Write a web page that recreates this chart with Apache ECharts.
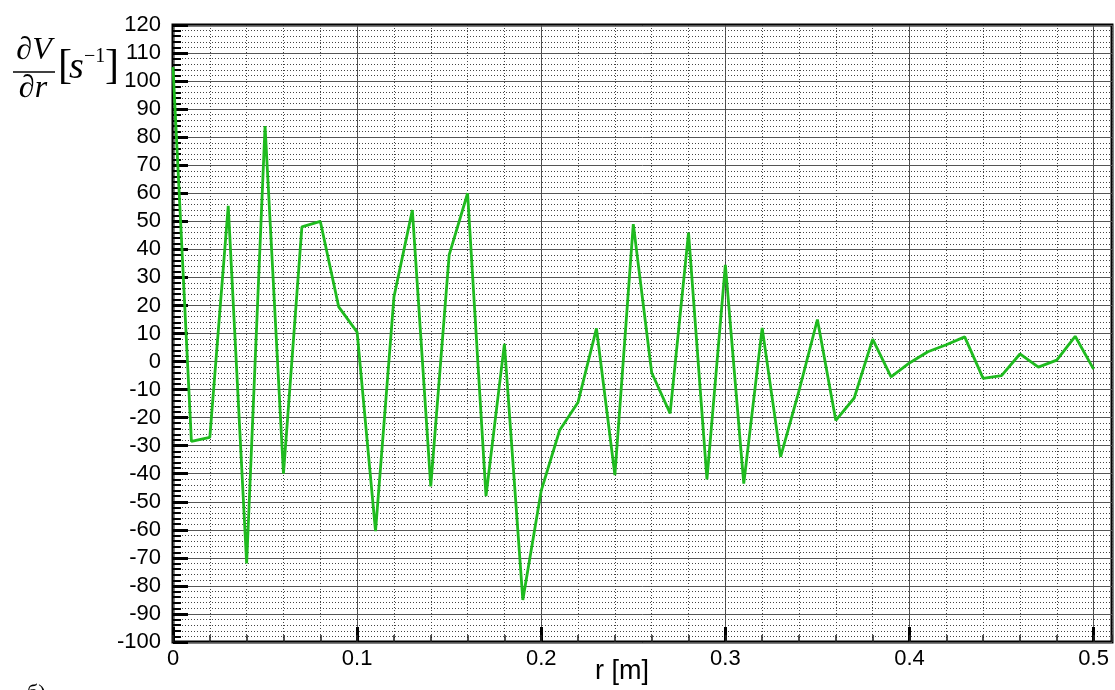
<!DOCTYPE html>
<html>
<head>
<meta charset="utf-8">
<script src="https://cdn.jsdelivr.net/npm/echarts@6/dist/echarts.min.js"></script>
<style>html,body{margin:0;padding:0;background:#fff;}#c{width:1115px;height:690px;}</style>
</head>
<body>
<div id="c"></div>
<script>
var rValues = [0,0.01,0.02,0.03,0.04,0.05,0.06,0.07,0.08,0.09,
  0.10,0.11,0.12,0.13,0.14,0.15,0.16,0.17,0.18,0.19,
  0.20,0.21,0.22,0.23,0.24,0.25,0.26,0.27,0.28,0.29,
  0.30,0.31,0.32,0.33,0.34,0.35,0.36,0.37,0.38,0.39,
  0.40,0.41,0.42,0.43,0.44,0.45,0.46,0.47,0.48,0.49,0.50];
var dVdr = [105,-28.5,-27,55.5,-72,84,-40,48,50,19.5,
  10.5,-60.5,23,54,-44.5,38,60,-48,6.3,-85,
  -46,-24.5,-14.5,11.8,-40.5,49,-4,-18.5,46,-42,
  34.5,-43.5,12,-34,-10.5,15,-21,-13,8,-5.5,
  -0.5,3.5,6,8.8,-6,-5,2.7,-2,0.5,9,-2.7];
var xTicks = [0,0.1,0.2,0.3,0.4,0.5];
var yTicks = [-100,-90,-80,-70,-60,-50,-40,-30,-20,-10,0,10,20,30,40,50,60,70,80,90,100,110,120];

var pts = rValues.map(function(r,i){return [r,dVdr[i]];});
var chart = echarts.init(document.getElementById('c'), null, {renderer:'canvas'});
var labelFont = {fontFamily:'Liberation Sans, Arial, sans-serif', fontSize:22, color:'#000'};
chart.setOption({
  animation:false,
  grid:{left:173,top:25,right:3,bottom:48,show:true,borderColor:'#000',borderWidth:3,backgroundColor:'transparent'},
  xAxis:[{
    type:'value', min:0, max:0.51, interval:0.1,
    axisLine:{show:false, onZero:false},
    axisTick:{show:true, inside:true, length:15, lineStyle:{color:'#000',width:3}},
    axisLabel:Object.assign({margin:6, showMaxLabel:false, formatter:function(v){return xTicks.indexOf(Math.round(v*100)/100)>=0 ? String(Math.round(v*10)/10) : '';}}, labelFont),
    splitLine:{show:true, lineStyle:{color:'#555',width:1}}
  },{
    type:'value', min:0, max:0.51, interval:0.02, position:'bottom',
    axisLine:{show:false, onZero:false},
    axisLabel:{show:false},
    axisTick:{show:true, inside:true, length:7, lineStyle:{color:'#222',width:1.5}},
    splitLine:{show:true, lineStyle:{color:'#444',width:1,type:[1,2]}}
  }],
  yAxis:{
    type:'value', min:-100, max:120, interval:10,
    axisLine:{show:false, onZero:false},
    axisTick:{show:true, inside:true, length:15, lineStyle:{color:'#000',width:3}},
    minorTick:{show:true, splitNumber:5, length:8, lineStyle:{color:'#000',width:2}},
    axisLabel:Object.assign({margin:12, formatter:function(v){return yTicks.indexOf(v)>=0?String(v):'';}}, labelFont),
    splitLine:{show:true, lineStyle:{color:'#555',width:1}},
    minorSplitLine:{show:true, lineStyle:{color:'#444',width:1,type:[1,2]}}
  },
  series:[{
    type:'line', xAxisIndex:0, data:pts, symbol:'none',
    lineStyle:{color:'#1fbb1f', width:2.8}, z:5
  }],
  graphic:[
    {type:'text', x:34, y:51, style:{text:'∂V', font:'italic 32px "Liberation Serif", serif', fill:'#000', textAlign:'center', textVerticalAlign:'middle'}},
    {type:'line', shape:{x1:13,y1:72,x2:55,y2:72}, style:{stroke:'#000', lineWidth:1.5}},
    {type:'text', x:33, y:89, style:{text:'∂r', font:'italic 32px "Liberation Serif", serif', fill:'#000', textAlign:'center', textVerticalAlign:'middle'}},
    {type:'text', x:58, y:67, style:{text:'[', font:'42px "Liberation Serif", serif', fill:'#000', textAlign:'left', textVerticalAlign:'middle'}},
    {type:'text', x:69, y:68, style:{text:'s', font:'italic 38px "Liberation Serif", serif', fill:'#000', textAlign:'left', textVerticalAlign:'middle'}},
    {type:'text', x:84, y:57, style:{text:'−1', font:'20px "Liberation Serif", serif', fill:'#000', textAlign:'left', textVerticalAlign:'middle'}},
    {type:'text', x:105, y:67, style:{text:']', font:'42px "Liberation Serif", serif', fill:'#000', textAlign:'left', textVerticalAlign:'middle'}},
    {type:'text', x:622, y:672, style:{text:'r [m]', font:'27px "Liberation Sans", Arial, sans-serif', fill:'#000', textAlign:'center', textVerticalAlign:'middle'}},
    {type:'text', x:27, y:682, style:{text:'б)', font:'22px "Liberation Serif", serif', fill:'#000', textAlign:'left', textVerticalAlign:'top'}}
  ]
});
</script>
</body>
</html>
